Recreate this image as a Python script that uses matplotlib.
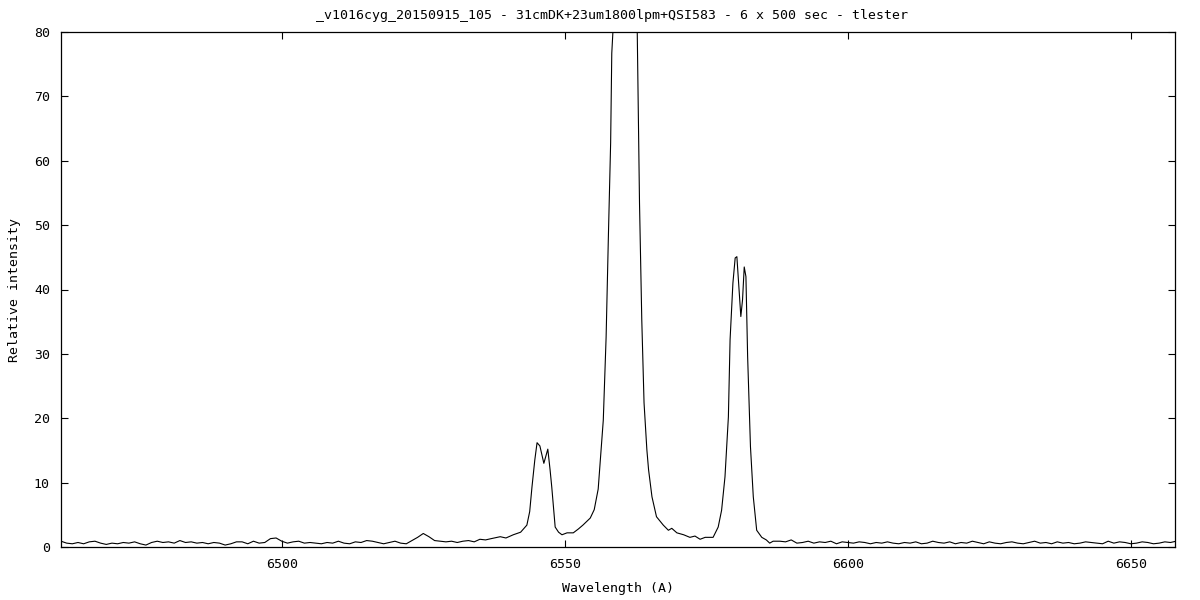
import numpy as np
import matplotlib
matplotlib.use("Agg")
from matplotlib import pyplot as plt

# spectrum (wavelength in A, relative intensity)
cont_left_x = list(range(6461, 6538))
cont_left_y = [0.9, 0.6, 0.5, 0.7, 0.5, 0.8, 0.9, 0.6, 0.4, 0.6,
               0.5, 0.7, 0.6, 0.8, 0.5, 0.3, 0.7, 0.9, 0.7, 0.8,
               0.6, 1.0, 0.7, 0.8, 0.6, 0.7, 0.5, 0.7, 0.6, 0.3,
               0.5, 0.8, 0.8, 0.5, 0.9, 0.6, 0.7, 1.3, 1.4, 0.9,
               0.6, 0.8, 0.9, 0.6, 0.7, 0.6, 0.5, 0.7, 0.6, 0.9,
               0.6, 0.5, 0.8, 0.7, 1.0, 0.9, 0.7, 0.5, 0.7, 0.9,
               0.6, 0.5, 1.0, 1.5, 2.1, 1.6, 1.0, 0.9, 0.8, 0.9,
               0.7, 0.9, 1.0, 0.8, 1.2, 1.1, 1.3]

# [NII] 6548, H-alpha, [NII] 6583
lines_x = [6538.6, 6539.6, 6540.9, 6542.2, 6543.3, 6543.8, 6544.2, 6544.7, 6545.1,
           6545.6, 6546.3, 6547.0, 6547.4, 6547.7, 6548.3, 6548.9, 6549.5, 6550.4,
           6551.5, 6552.4, 6553.2, 6554.5, 6555.2, 6555.9, 6556.8, 6557.3, 6557.7,
           6558.1, 6558.3, 6558.5, 6558.9, 6560.6, 6562.4, 6562.8, 6563.2, 6563.6,
           6564.0, 6564.5, 6564.8, 6565.4, 6566.2, 6567.4, 6568.3, 6568.9, 6569.8,
           6571.0, 6572.1, 6573.0, 6573.9, 6574.8, 6576.2, 6577.1, 6577.7, 6578.3,
           6578.9, 6579.2, 6579.7, 6580.1, 6580.4, 6580.8, 6581.1, 6581.4, 6581.7,
           6582.0, 6582.3, 6582.8, 6583.3, 6583.9, 6584.8, 6585.6, 6586.2, 6586.8,
           6588.0]
lines_y = [1.6, 1.4, 1.9, 2.3, 3.4, 5.5, 9.3, 13.5, 16.2,
           15.7, 13.0, 15.2, 12.0, 9.3, 3.1, 2.3, 1.9, 2.2,
           2.2, 2.8, 3.4, 4.5, 5.8, 9.0, 19.7, 32.6, 48.2,
           62.8, 76.7, 80.0, 100.0, 125.0, 100.0, 80.0, 53.4, 35.3,
           22.4, 15.1, 12.0, 7.8, 4.7, 3.4, 2.6, 2.9, 2.2,
           1.9, 1.5, 1.7, 1.2, 1.5, 1.5, 3.1, 5.7, 10.9,
           20.2, 32.2, 41.0, 44.9, 45.1, 39.9, 35.8, 38.4, 43.5,
           42.0, 29.6, 15.6, 7.8, 2.6, 1.5, 1.1, 0.6, 0.9,
           0.9]

cont_right_x = list(range(6589, 6659))
cont_right_y = [0.8, 1.1, 0.6, 0.7, 0.9, 0.6, 0.8, 0.7, 0.9, 0.5,
                0.8, 0.7, 0.6, 0.8, 0.7, 0.5, 0.7, 0.6, 0.8, 0.6,
                0.5, 0.7, 0.6, 0.8, 0.5, 0.6, 0.9, 0.7, 0.6, 0.8,
                0.5, 0.7, 0.6, 0.9, 0.7, 0.5, 0.8, 0.6, 0.5, 0.7,
                0.8, 0.6, 0.5, 0.7, 0.9, 0.6, 0.7, 0.5, 0.8, 0.6,
                0.7, 0.5, 0.6, 0.8, 0.7, 0.6, 0.5, 0.9, 0.6, 0.8,
                0.7, 0.5, 0.6, 0.8, 0.7, 0.5, 0.6, 0.8, 0.7, 0.9]

wave = np.array(cont_left_x + lines_x + cont_right_x, dtype=float)
flux = np.array(cont_left_y + lines_y + cont_right_y, dtype=float)

title = "_v1016cyg_20150915_105 - 31cmDK+23um1800lpm+QSI583 - 6 x 500 sec - tlester"
xticks = [6500, 6550, 6600, 6650]
yticks = list(range(0, 81, 10))

plt.rcParams['font.family'] = ['DejaVu Sans Mono']
plt.rcParams['font.size'] = 9.5

fig = plt.figure(figsize=(12, 6), dpi=100)
ax = fig.add_axes([61 / 1200, 1 - 547 / 600, 1114 / 1200, 515 / 600])

ax.plot(wave, flux, color='black', lw=0.8)

ax.set_xlim(6461, 6657.8)
ax.set_ylim(0, 80)
ax.set_xticks(xticks)
ax.set_yticks(yticks)
ax.tick_params(direction='in', length=5, width=0.8, top=True, right=True,
               labelsize=9.5, pad=8, colors='black')
for s in ax.spines.values():
    s.set_linewidth(0.9)

ax.set_xlabel("Wavelength (A)", labelpad=8)
ax.set_ylabel("Relative intensity", labelpad=9)
fig.text(612 / 1200, 1 - 15 / 600, title, ha='center', va='center', fontsize=9.5)

fig.savefig("out.png", dpi=100)
